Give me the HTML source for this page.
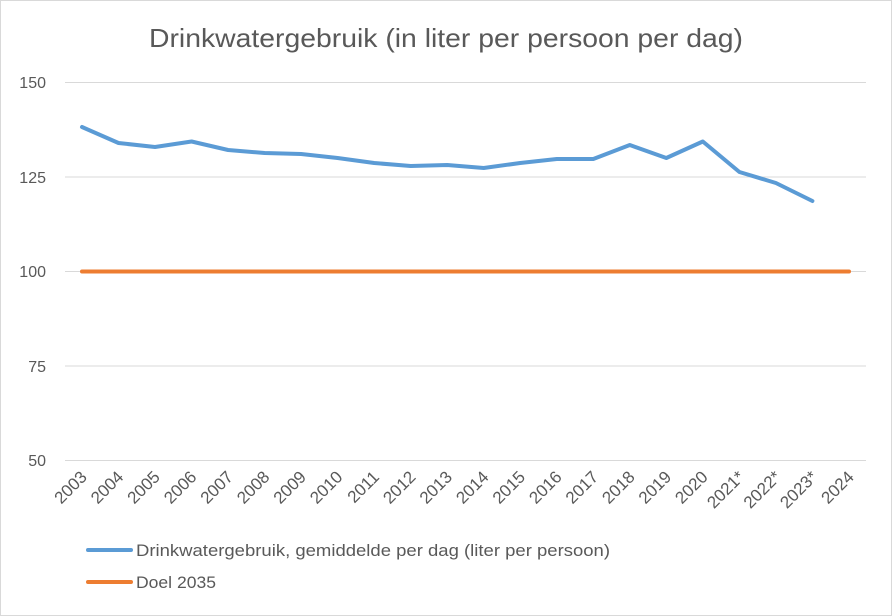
<!DOCTYPE html>
<html><head><meta charset="utf-8"><style>
body{margin:0;background:#fff}
svg{display:block;font-family:"Liberation Sans",Carlito,sans-serif}
</style></head><body>
<svg width="892" height="616" viewBox="0 0 892 616" xmlns="http://www.w3.org/2000/svg">
<rect x="0.5" y="0.5" width="891" height="615" fill="#fff" stroke="#d9d9d9"/>
<text x="446" y="47" font-size="26" fill="#595959" text-anchor="middle" textLength="594" lengthAdjust="spacingAndGlyphs">Drinkwatergebruik (in liter per persoon per dag)</text>
<g stroke="#d9d9d9" stroke-width="1">
<line x1="65" y1="82.5" x2="866" y2="82.5"/>
<line x1="65" y1="177" x2="866" y2="177"/>
<line x1="65" y1="271.5" x2="866" y2="271.5"/>
<line x1="65" y1="366" x2="866" y2="366"/>
<line x1="65" y1="460.5" x2="866" y2="460.5"/>
</g>
<g font-size="16" fill="#595959" text-anchor="end">
<text x="46" y="88">150</text>
<text x="46" y="183">125</text>
<text x="46" y="277">100</text>
<text x="46" y="372">75</text>
<text x="46" y="466">50</text>
</g>
<g font-size="17" fill="#595959" text-anchor="end">
<text transform="translate(88,478) rotate(-45)">2003</text>
<text transform="translate(124.5,478) rotate(-45)">2004</text>
<text transform="translate(161,478) rotate(-45)">2005</text>
<text transform="translate(197.6,478) rotate(-45)">2006</text>
<text transform="translate(234.1,478) rotate(-45)">2007</text>
<text transform="translate(270.6,478) rotate(-45)">2008</text>
<text transform="translate(307.1,478) rotate(-45)">2009</text>
<text transform="translate(343.6,478) rotate(-45)">2010</text>
<text transform="translate(380.2,478) rotate(-45)">2011</text>
<text transform="translate(416.7,478) rotate(-45)">2012</text>
<text transform="translate(453.2,478) rotate(-45)">2013</text>
<text transform="translate(489.7,478) rotate(-45)">2014</text>
<text transform="translate(526.2,478) rotate(-45)">2015</text>
<text transform="translate(562.8,478) rotate(-45)">2016</text>
<text transform="translate(599.3,478) rotate(-45)">2017</text>
<text transform="translate(635.8,478) rotate(-45)">2018</text>
<text transform="translate(672.3,478) rotate(-45)">2019</text>
<text transform="translate(708.8,478) rotate(-45)">2020</text>
<text transform="translate(745.4,478) rotate(-45)">2021*</text>
<text transform="translate(781.9,478) rotate(-45)">2022*</text>
<text transform="translate(818.4,478) rotate(-45)">2023*</text>
<text transform="translate(854.9,478) rotate(-45)">2024</text>
</g>
<line x1="82" y1="271.5" x2="849" y2="271.5" stroke="#ed7d31" stroke-width="4" stroke-linecap="round"/>
<polyline fill="none" stroke="#5b9bd5" stroke-width="4" stroke-linejoin="round" stroke-linecap="round"
points="82,127 118.5,143 155,147 191.6,141.5 228.1,150 264.6,153 301.1,154 337.6,158 374.2,163 410.7,166 447.2,165 483.7,168 520.2,163 556.8,159 593.3,159 629.8,145 666.3,158 702.8,141.5 739.4,172 775.9,183 812.4,201"/>
<line x1="88" y1="550" x2="131" y2="550" stroke="#5b9bd5" stroke-width="4" stroke-linecap="round"/>
<text x="136" y="556" font-size="17" fill="#595959" textLength="474" lengthAdjust="spacingAndGlyphs">Drinkwatergebruik, gemiddelde per dag (liter per persoon)</text>
<line x1="88" y1="582" x2="131" y2="582" stroke="#ed7d31" stroke-width="4" stroke-linecap="round"/>
<text x="136" y="588" font-size="17" fill="#595959" textLength="80" lengthAdjust="spacingAndGlyphs">Doel 2035</text>
</svg>
</body></html>
